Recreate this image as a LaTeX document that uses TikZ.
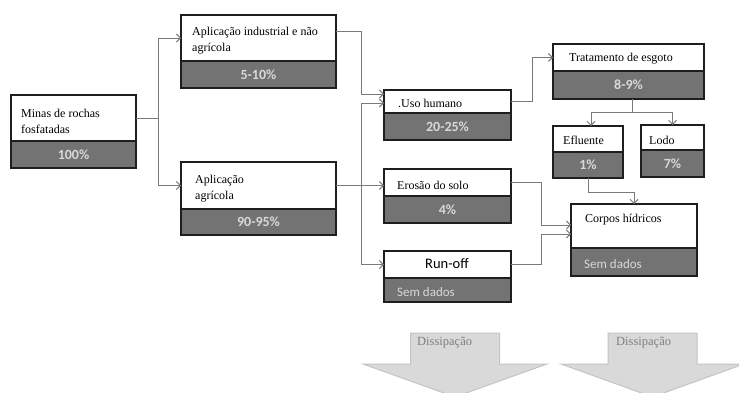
\documentclass[tikz,border=0pt]{standalone}
\usepackage{fontspec}
\setmainfont{Liberation Serif}
\newfontfamily\calfont{Carlito}
\usetikzlibrary{arrows.meta,calc}

\definecolor{valfill}{HTML}{737373}
\definecolor{valtext}{HTML}{D8D8D8}
\definecolor{edge}{HTML}{1E1E1E}
\definecolor{wire}{HTML}{7A7A7A}
\definecolor{dissfill}{HTML}{D9D9D9}
\definecolor{dissedge}{HTML}{C4C4C4}
\definecolor{disstext}{HTML}{7F7F7F}

\tikzset{
  head/.style={draw=edge, line width=1.3pt, fill=white, inner sep=0pt, outer sep=0pt, anchor=north west},
  val/.style={draw=edge, line width=1.3pt, fill=valfill, inner sep=0pt, outer sep=0pt, anchor=north west,
    text=valtext, font=\calfont\bfseries\fontsize{14}{16}\selectfont},
  lbl/.style={anchor=west, inner sep=0pt, align=left, font=\fontsize{12}{16}\selectfont},
  nodata/.style={anchor=west, inner sep=0pt, text=valtext, font=\calfont\fontsize{13}{15}\selectfont},
  wire/.style={draw=wire, line width=0.9pt},
  conn/.style={wire, -{Straight Barb[length=4pt,width=8pt]}},
  dissarrow/.style={fill=dissfill, draw=dissedge, line width=1pt},
  disslbl/.style={anchor=west, inner sep=0pt, text=disstext, font=\fontsize{12.5}{14}\selectfont},
}

% #1 name, #2 left, #3 top, #4 width, #5 head height, #6 value height, #7 value text
\newcommand\mkbox[7]{%
  \node[head, minimum width=#4pt, minimum height=#5pt] (#1) at (#2,#3) {};
  \node[val, minimum width=#4pt, minimum height=#6pt] (#1v) at (#1.south west) {#7};
}

\begin{document}
\begin{tikzpicture}[x=1pt, y=-1pt]
\useasboundingbox (0,0) rectangle (739,393);

% boxes
\mkbox{minas}{11}{95}{125}{46}{27}{100\%}
\mkbox{ind}{181}{15}{155}{46}{27}{5-10\%}
\mkbox{agr}{181}{162}{155}{47}{26}{90-95\%}
\mkbox{uso}{384}{90}{127}{23}{27}{20-25\%}
\mkbox{ero}{384}{169}{127}{27}{27}{4\%}
\mkbox{run}{384}{251}{127}{27}{24}{}
\mkbox{trat}{553}{44}{151}{27}{28}{8-9\%}
\mkbox{efl}{553}{126}{70}{26}{26}{1\%}
\mkbox{lodo}{641}{125}{63}{25}{27}{7\%}
\mkbox{corp}{571}{204}{126}{44}{28}{}

% box titles
\node[lbl] (tminas) at (21,121.5) {Minas de rochas\\fosfatadas};
\node[lbl] (tind) at (192,41) {Aplicação industrial e não\\agrícola};
\node[lbl] (tagr) at (195,188.5) {Aplicação\\agrícola};
\node[lbl] (tuso) at (398,103) {.Uso humano};
\node[lbl] (tero) at (397,185) {Erosão do solo};
\node[inner sep=0pt, font=\calfont\fontsize{14.5}{16}\selectfont] (trun) at (447,264) {Run-off};
\node[lbl] (ttrat) at (569,59) {Tratamento de esgoto};
\node[lbl] (tefl) at (563,140) {Efluente};
\node[lbl] (tlodo) at (649,140) {Lodo};
\node[lbl] (tcorp) at (585,220) {Corpos hídricos};
\node[nodata] (ncorp) at (584,264) {Sem dados};
\node[nodata] (nrun) at (397,292) {Sem dados};

% connectors
\draw[conn] (minas.east) -- ++(22,0) coordinate (fork) |- (ind.west);
\draw[conn] (fork) |- (agr.west);

\draw[conn] ($(ind.east)+(0,-7)$) -- ++(25,0) |- ($(uso.west)+(0,-7.5)$);
\draw[conn] (agr.east) -- (agr.east -| ero.west);
\coordinate (bus) at ($(uso.west)+(-23,1.5)$);
\draw[conn] (bus) -- ($(uso.west)+(0,1.5)$);
\draw[conn] (bus) |- (run.west);

\draw[conn] (uso.east) -- ++(21,0) |- (trat.west);
\draw[wire] ($(tratv.south)+(4,0)$) -- ++(0,13) coordinate (split);
\draw[conn] (split) -| ($(efl.north)+(3,0)$);
\draw[conn] (split) -| (lodo.north);
\draw[conn] (eflv.south) -- ++(0,14) -| (corp.north);

\draw[conn] (ero.east) -- ++(30,0) |- ($(corp.west)+(0,-1)$);
\draw[conn] (run.east) -- ++(30,0) |- ($(corp.west)+(0,8)$);

% dissipation arrows
\begin{scope}
\clip (0,0) rectangle (739,393);
\draw[dissarrow] (410.5,333) -- (499.5,333) -- (499.5,364) -- (547,364) -- (455,397)
  -- (363,364) -- (410.5,364) -- cycle;
\draw[dissarrow] (608,333) -- (697,333) -- (697,364) -- (744,364) -- (652.5,397)
  -- (561,364) -- (608,364) -- cycle;
\end{scope}
\node[disslbl] (d1) at (417,343) {Dissipação};
\node[disslbl] (d2) at (616,343) {Dissipação};
\end{tikzpicture}
\end{document}
